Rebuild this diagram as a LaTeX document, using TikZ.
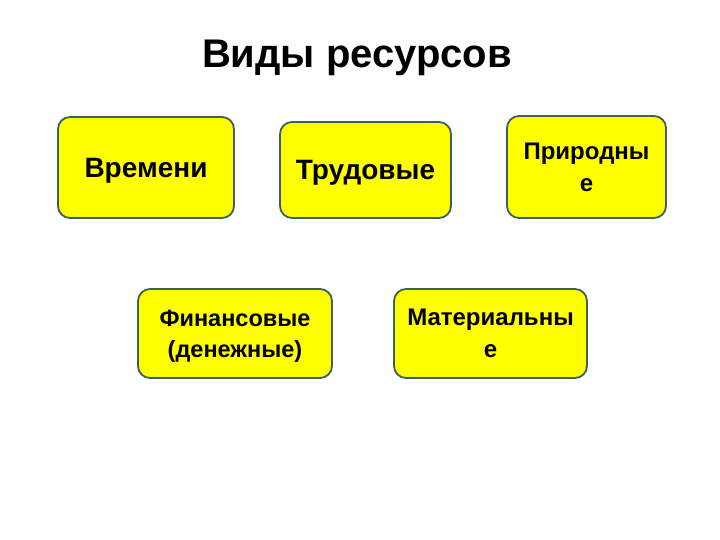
\documentclass[tikz,border=0pt]{standalone}
\usepackage{fontspec}
\setmainfont{Liberation Sans}
\usepackage{tikz}

\definecolor{ramka}{HTML}{3F5F5F}
\definecolor{zhelt}{HTML}{FFFF00}

\begin{document}
\begin{tikzpicture}[x=1pt, y=-1pt, align=center,
  vid/.style={draw=ramka, line width=1.8pt, fill=zhelt, rounded corners=12pt,
    inner sep=0pt, text depth=0pt, font=\bfseries}]

\useasboundingbox (0, 0) rectangle (720, 540);

\node[font=\bfseries\fontsize{40}{46}\selectfont] (title) at (357, 58) {Виды ресурсов};

\node[vid, minimum width=176pt, minimum height=101pt, font=\bfseries\fontsize{28}{32}\selectfont] (vrem) at (146, 167.5) {Времени};
\node[vid, minimum width=171pt, minimum height=96pt, font=\bfseries\fontsize{28}{32}\selectfont] (trud) at (365.5, 170) {Трудовые};
\node[vid, minimum width=159pt, minimum height=102pt, font=\bfseries\fontsize{24}{32}\selectfont] (prir) at (586.5, 167) {Природны\\е};
\node[vid, minimum width=194pt, minimum height=89pt, font=\bfseries\fontsize{23.5}{31}\selectfont] (fin) at (235, 333.5) {Финансовые\\(денежные)};
\node[vid, minimum width=193pt, minimum height=89pt, font=\bfseries\fontsize{24}{32}\selectfont] (mat) at (490.5, 333.5) {Материальны\\е};

\end{tikzpicture}
\end{document}
